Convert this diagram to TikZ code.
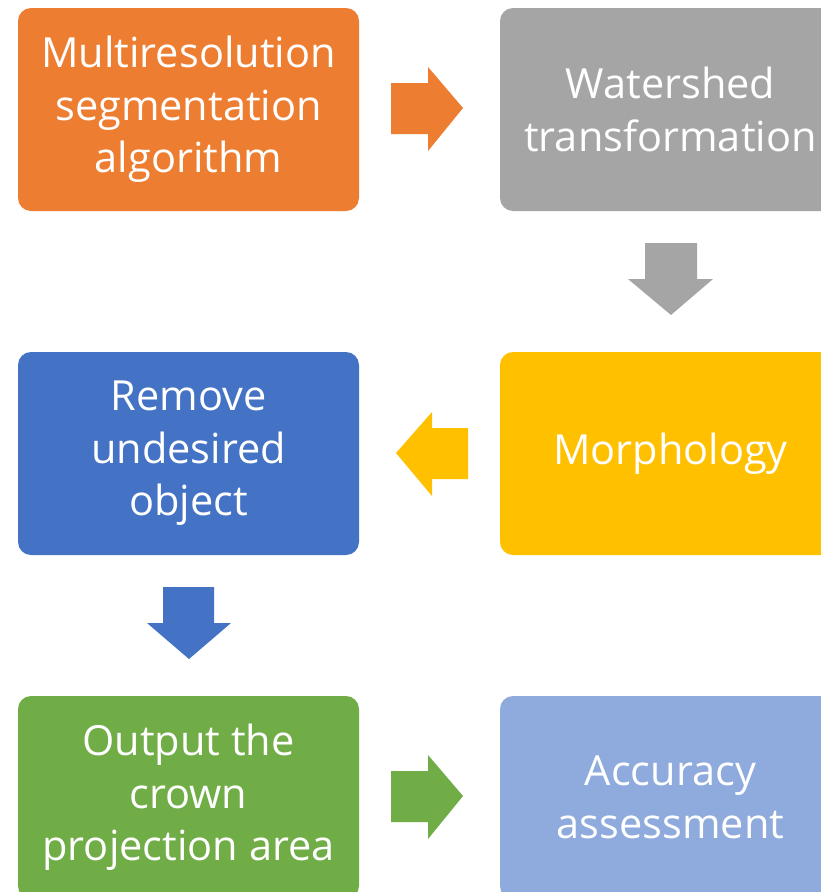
\documentclass[tikz,border=0pt]{standalone}
\usepackage{fontspec}
\setmainfont{Open Sans}
\definecolor{cOrange}{HTML}{ED7D31}
\definecolor{cGray}{HTML}{A5A5A5}
\definecolor{cGold}{HTML}{FFC000}
\definecolor{cBlue}{HTML}{4472C4}
\definecolor{cGreen}{HTML}{70AD47}
\definecolor{cLight}{HTML}{8FAADC}
\tikzset{
  stepbox/.style={rectangle, rounded corners=13pt, minimum width=341pt, minimum height=203pt,
    inner sep=0pt, text=white, align=center, font=\fontsize{41.5}{52.5}\selectfont},
}
\begin{document}
\begin{tikzpicture}[x=1pt,y=-1pt]
\useasboundingbox (0,0) rectangle (821,892);
\clip (0,0) rectangle (821,892);
\fill[white] (0,0) rectangle (821,892);
% process boxes
\node[stepbox, fill=cOrange] (seg) at (188.5,109.5) {Multiresolution\\segmentation\\algorithm};
\node[stepbox, fill=cGray]   (ws)  at (670.5,109.5) {Watershed\\transformation};
\node[stepbox, fill=cGold]   (mor) at (670.5,453.5) {Morphology};
\node[stepbox, fill=cBlue]   (rem) at (188.5,453.5) {Remove\\undesired\\object};
\node[stepbox, fill=cGreen]  (out) at (188.5,797.5) {Output the\\crown\\projection area};
\node[stepbox, fill=cLight]  (acc) at (670.5,797.5) {Accuracy\\assessment};
% block arrows between the boxes
\fill[cOrange] (391,83) -- (428,83) -- (428,67) -- (463,108) -- (428,151) -- (428,134) -- (391,134) -- cycle;
\fill[cGray] (645,243) -- (697,243) -- (697,279) -- (713,279) -- (671,315) -- (628,279) -- (645,279) -- cycle;
\fill[cGold] (468,428) -- (432,428) -- (432,412) -- (396,453) -- (432,496) -- (432,479) -- (468,479) -- cycle;
\fill[cBlue] (163,587) -- (214,587) -- (214,623) -- (231,623) -- (189,659) -- (147,623) -- (163,623) -- cycle;
\fill[cGreen] (391,771) -- (428,771) -- (428,755) -- (463,796) -- (428,839) -- (428,822) -- (391,822) -- cycle;
\end{tikzpicture}
\end{document}
